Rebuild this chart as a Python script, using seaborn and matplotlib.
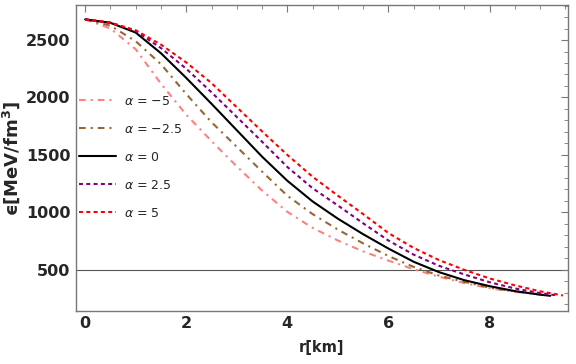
import numpy as np
import pandas as pd
import matplotlib
matplotlib.use("Agg")
import matplotlib.pyplot as plt
import seaborn as sns
from matplotlib.ticker import MultipleLocator

# Datos: densidad de energia vs radio
r_m5 = [0, 0.5, 1, 1.5, 2, 2.5, 3, 3.5, 4, 4.5, 5, 5.5, 6, 6.5, 7, 7.5, 8, 8.5, 9, 9.05]
eps_m5 = [2680, 2600, 2420, 2120, 1850, 1620, 1400, 1190, 1005, 865, 755, 660, 580, 505, 440, 385, 340, 308, 288, 286]

r_m25 = [0, 0.5, 1, 1.5, 2, 2.5, 3, 3.5, 4, 4.5, 5, 5.5, 6, 6.5, 7, 7.5, 8, 8.5, 9, 9.1]
eps_m25 = [2680, 2625, 2490, 2290, 2030, 1785, 1570, 1355, 1145, 985, 850, 730, 620, 525, 450, 395, 345, 312, 285, 280]

r_0 = [0, 0.5, 1, 1.5, 2, 2.5, 3, 3.5, 4, 4.5, 5, 5.5, 6, 6.5, 7, 7.5, 8, 8.5, 9, 9.2]
eps_0 = [2680, 2650, 2565, 2385, 2170, 1945, 1715, 1485, 1275, 1095, 945, 810, 685, 570, 480, 410, 358, 315, 284, 274]

r_25 = [0, 0.5, 1, 1.5, 2, 2.5, 3, 3.5, 4, 4.5, 5, 5.5, 6, 6.5, 7, 7.5, 8, 8.5, 9, 9.35]
eps_25 = [2680, 2652, 2578, 2430, 2250, 2045, 1830, 1615, 1395, 1210, 1060, 905, 755, 632, 535, 460, 392, 338, 297, 277]

r_5 = [0, 0.5, 1, 1.5, 2, 2.5, 3, 3.5, 4, 4.5, 5, 5.5, 6, 6.5, 7, 7.5, 8, 8.5, 9, 9.45]
eps_5 = [2680, 2650, 2585, 2460, 2305, 2125, 1915, 1705, 1500, 1310, 1145, 985, 820, 690, 585, 500, 425, 365, 313, 277]

etiquetas = [r"$\alpha$ = −5", r"$\alpha$ = −2.5", r"$\alpha$ = 0", r"$\alpha$ = 2.5", r"$\alpha$ = 5"]
colores = ["#FF8080", "#996633", "#000000", "#800080", "#FF0000"]
estilos = [(0, (3.2, 2.4, 1.0, 2.4)), (0, (3.2, 2.4, 1.0, 2.4)), "-", (0, (1.9, 1.6)), (0, (1.9, 1.6))]

curvas = [(r_m5, eps_m5), (r_m25, eps_m25), (r_0, eps_0), (r_25, eps_25), (r_5, eps_5)]

sns.set_style("white")
plt.rcParams["font.family"] = ["DejaVu Sans"]
plt.rcParams["mathtext.fontset"] = "dejavusans"

fig = plt.figure(figsize=(5.76, 3.64), dpi=100)
ax = fig.add_axes([0.132, 0.146, 0.854, 0.840])

for (rr, ee), lab, col, ls in zip(curvas, etiquetas, colores, estilos):
    df = pd.DataFrame({"r": rr, "eps": ee})
    sns.lineplot(data=df, x="r", y="eps", ax=ax, color=col, linestyle=ls,
                 linewidth=1.5, label=lab, sort=False)

ax.axhline(500, color="#555555", linewidth=0.8, zorder=0)

ax.set_xlim(-0.18, 9.55)
ax.set_ylim(143, 2804)
ax.xaxis.set_major_locator(MultipleLocator(2))
ax.xaxis.set_minor_locator(MultipleLocator(0.5))
ax.yaxis.set_major_locator(MultipleLocator(500))
ax.yaxis.set_minor_locator(MultipleLocator(100))
ax.tick_params(which="both", direction="in", top=True, right=True, color="#777777")
ax.tick_params(which="major", length=5, width=0.8, labelsize=11.5, pad=4)
ax.tick_params(which="minor", length=3, width=0.6)
for lbl in ax.get_xticklabels() + ax.get_yticklabels():
    lbl.set_fontweight("bold")
for s in ax.spines.values():
    s.set_color("#777777")
    s.set_linewidth(1.0)

ax.set_xlabel("r[km]", fontsize=10.5, fontweight="bold", labelpad=6)
ax.set_ylabel(r"ϵ[MeV/fm$^\mathbf{3}$]", fontsize=13, fontweight="bold", labelpad=3)

ax.legend(loc="center left", bbox_to_anchor=(0.0, 0.503), frameon=False,
          fontsize=9, handlelength=3.0, handletextpad=0.6, labelspacing=1.2,
          borderaxespad=0.0, borderpad=0.2)

fig.savefig("out.png", dpi=100)
